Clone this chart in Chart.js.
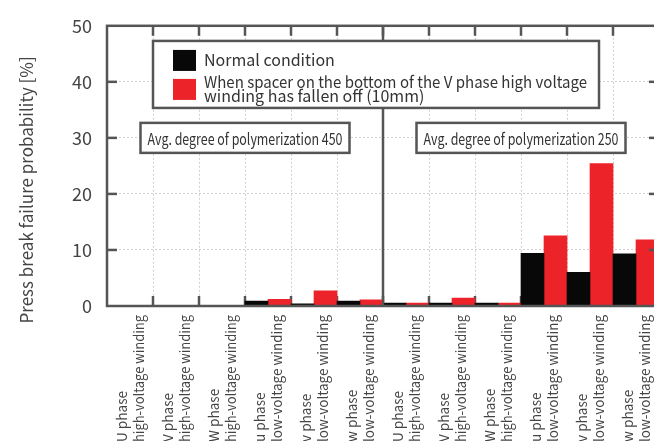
<!DOCTYPE html>
<html>
<head>
<meta charset="utf-8">
<script src="https://cdn.jsdelivr.net/npm/chart.js@4.4.1/dist/chart.umd.min.js"></script>
<style>
  html, body { margin: 0; padding: 0; background: #fff; overflow: hidden; width: 654px; height: 441px; }
  canvas { display: block; }
</style>
</head>
<body>
<canvas id="chart" width="670" height="441"></canvas>
<script>
// Winding positions (two-line labels), two groups of six
const categories = [
  ["U phase", "high-voltage winding"],
  ["V phase", "high-voltage winding"],
  ["W phase", "high-voltage winding"],
  ["u phase", "low-voltage winding"],
  ["v phase", "low-voltage winding"],
  ["w phase", "low-voltage winding"],
  ["U phase", "high-voltage winding"],
  ["V phase", "high-voltage winding"],
  ["W phase", "high-voltage winding"],
  ["u phase", "low-voltage winding"],
  ["v phase", "low-voltage winding"],
  ["w phase", "low-voltage winding"]
];

// Press break failure probability [%]
const normalCondition = [0, 0, 0, 0.9, 0.4, 0.9, 0.5, 0.5, 0.5, 9.4, 6.0, 9.3];
const spacerFallenOff = [0, 0, 0, 1.2, 2.7, 1.1, 0.5, 1.4, 0.5, 12.5, 25.4, 11.8];

const yTicks = [0, 10, 20, 30, 40, 50];

const seriesNames = [
  "Normal condition",
  "When spacer on the bottom of the V phase high voltage winding has fallen off (10mm)"
];
const legendLines = [
  ["Normal condition"],
  ["When spacer on the bottom of the V phase high voltage", "winding has fallen off (10mm)"]
];
const groupNotes = ["Avg. degree of polymerization 450", "Avg. degree of polymerization 250"];
const yTitle = "Press break failure probability [%]";

const FONT = '"Noto Sans CJK JP", "Noto Sans", sans-serif';
const FRAME = '#555';
const TEXT = '#444';
const seriesColors = ['#080808', '#ec2328'];

function line(ctx, x1, y1, x2, y2) {
  ctx.beginPath(); ctx.moveTo(x1, y1); ctx.lineTo(x2, y2); ctx.stroke();
}

const decorations = {
  id: 'decorations',
  beforeDatasetsDraw(chart) {
    const { ctx, chartArea: a, scales: { x } } = chart;
    // inward ticks on the bottom axis at category boundaries
    ctx.save();
    ctx.strokeStyle = FRAME; ctx.lineWidth = 2.5;
    for (let i = 0; i < categories.length - 1; i++) {
      const px = x.getPixelForValue(i + 0.5);
      line(ctx, px, a.bottom, px, a.bottom - 10);
    }
    ctx.restore();
  },
  afterDatasetsDraw(chart) {
    const { ctx, chartArea: a, scales: { x, y } } = chart;
    ctx.save();
    ctx.strokeStyle = FRAME; ctx.lineWidth = 2.5;

    // top ticks at category boundaries
    for (let i = 0; i < categories.length - 1; i++) {
      const px = x.getPixelForValue(i + 0.5);
      line(ctx, px, a.top, px, a.top + 10);
    }
    // left/right inward ticks
    yTicks.slice(1, -1).forEach(v => {
      const py = y.getPixelForValue(v);
      line(ctx, a.left, py, a.left + 10, py);
      line(ctx, a.right, py, a.right - 10, py);
    });
    // separator between the two polymerization groups
    const groupSize = categories.length / groupNotes.length;
    const sepX = x.getPixelForValue(groupSize - 0.5);
    line(ctx, sepX, a.top, sepX, a.bottom);
    // plot frame
    ctx.strokeRect(a.left, a.top, a.right - a.left, a.bottom - a.top);

    // group notes
    groupNotes.forEach((txt, g) => {
      const cx = x.getPixelForValue(g * groupSize + groupSize / 2 - 0.5);
      const cy = y.getPixelForValue(30);
      const w = 209, h = 30;
      ctx.fillStyle = '#fff';
      ctx.fillRect(cx - w / 2, cy - h / 2, w, h);
      ctx.lineWidth = 2.5; ctx.strokeStyle = FRAME;
      ctx.strokeRect(cx - w / 2, cy - h / 2, w, h);
      ctx.fillStyle = '#333';
      ctx.font = '16px ' + FONT;
      ctx.textAlign = 'center'; ctx.textBaseline = 'middle';
      ctx.fillText(txt, cx, cy + 1, w - 14);
    });

    // legend box
    const lx = x.getPixelForValue(0.5);
    const ly = y.getPixelForValue(47.3);
    const textX = lx + 51;
    ctx.font = '16px ' + FONT;
    let maxW = 0;
    legendLines.flat().forEach(t => { maxW = Math.max(maxW, Math.min(383, ctx.measureText(t).width)); });
    const lw = textX - lx + maxW + 12;
    const lh = 67;
    ctx.fillStyle = '#fff';
    ctx.fillRect(lx, ly, lw, lh);
    ctx.strokeRect(lx, ly, lw, lh);
    const rows = [ly + 19, ly + 48];
    ctx.textAlign = 'left'; ctx.textBaseline = 'middle';
    legendLines.forEach((lines, k) => {
      ctx.fillStyle = seriesColors[k];
      ctx.fillRect(lx + 20, rows[k] - 10, 23, 21);
      ctx.fillStyle = '#333';
      const lineH = 14;
      const y0 = rows[k] - (lines.length - 1) * lineH / 2;
      lines.forEach((t, j) => ctx.fillText(t, textX, y0 + j * lineH, 383));
    });

    // y axis title
    ctx.save();
    ctx.translate(27, (a.top + a.bottom) / 2 + 24);
    ctx.rotate(-Math.PI / 2);
    ctx.font = '17px ' + FONT;
    ctx.fillStyle = TEXT;
    ctx.textAlign = 'center'; ctx.textBaseline = 'middle';
    ctx.fillText(yTitle, 0, 0);
    ctx.restore();

    // category labels, rotated, reading upward from the bottom edge
    ctx.font = '13.6px ' + FONT;
    ctx.fillStyle = TEXT;
    ctx.textAlign = 'left'; ctx.textBaseline = 'middle';
    categories.forEach((lines, i) => {
      const cx = x.getPixelForValue(i);
      ctx.save();
      ctx.translate(cx + 1, a.bottom + 136);
      ctx.rotate(-Math.PI / 2);
      ctx.fillText(lines[0], 0, -9);
      ctx.fillText(lines[1], 0, 8, 127);
      ctx.restore();
    });
    ctx.restore();
  }
};

new Chart(document.getElementById('chart'), {
  type: 'bar',
  data: {
    labels: categories,
    datasets: [
      { label: seriesNames[0], data: normalCondition, backgroundColor: seriesColors[0], borderWidth: 0 },
      { label: seriesNames[1], data: spacerFallenOff, backgroundColor: seriesColors[1], borderWidth: 0 }
    ]
  },
  options: {
    responsive: false,
    animation: false,
    layout: { padding: { top: 21, right: 11, left: 0, bottom: 0 } },
    datasets: { bar: { categoryPercentage: 1.0, barPercentage: 1.0 } },
    plugins: { legend: { display: false }, tooltip: { enabled: false } },
    scales: {
      x: {
        ticks: { display: false },
        grid: { offset: true, color: '#d0d0d0', lineWidth: 1, drawTicks: false },
        border: { display: false, dash: [2, 2] },
        afterFit(scale) { scale.height = 135; }
      },
      y: {
        min: 0, max: 50,
        afterBuildTicks(scale) { scale.ticks = yTicks.map(v => ({ value: v })); },
        ticks: { color: TEXT, font: { family: FONT, size: 18 }, padding: 15 },
        grid: { color: '#d0d0d0', lineWidth: 1, drawTicks: false },
        border: { display: false, dash: [2, 2] },
        afterFit(scale) { scale.width = 107; }
      }
    }
  },
  plugins: [decorations]
});
</script>
</body>
</html>
